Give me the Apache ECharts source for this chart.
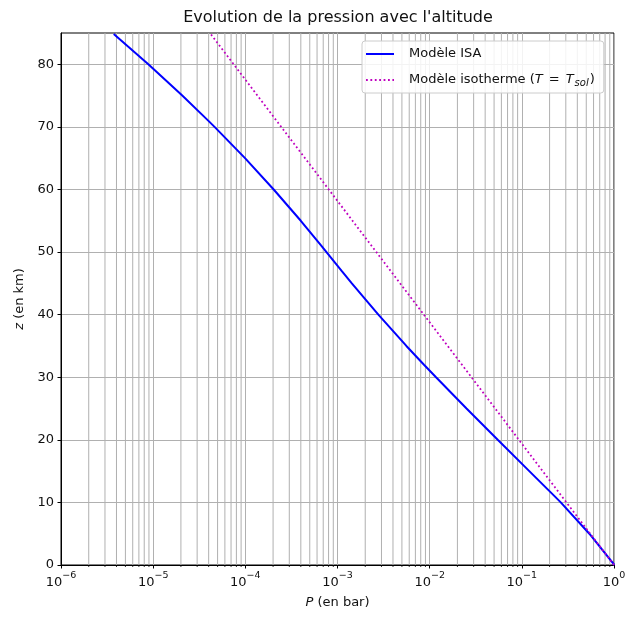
<!DOCTYPE html>
<html>
<head>
<meta charset="utf-8">
<script src="https://cdn.jsdelivr.net/npm/echarts@6/dist/echarts.min.js"></script>
<style>
html,body{margin:0;padding:0;background:#fff;}
#chart{width:638px;height:617px;}
</style>
</head>
<body>
<div id="chart"></div>
<script>
// ---- data ----
const altISA  = [0, 5, 10, 11, 15, 20, 25, 30, 32, 35, 40, 45, 47, 50, 51, 55, 60, 65, 70, 71, 75, 80, 84.85];
const presISA = [1.01325, 0.5402, 0.2644, 0.2263, 0.1205, 0.05475, 0.02511, 0.01172, 0.00868, 0.005589,
                 0.002775, 0.001431, 0.001109, 0.0007595, 0.0006694, 0.0003997, 0.0002031, 0.00009921,
                 0.00004634, 0.00003956, 0.00002068, 0.000008861, 0.000003734];
const altIso  = [0, 10, 20, 30, 40, 50, 60, 70, 80, 85];
const presIso = [1, 0.305, 0.093, 0.0284, 0.00865, 0.00264, 0.000804, 0.000245, 0.0000748, 0.0000413];
const xMajorExps = [-6, -5, -4, -3, -2, -1, 0];
const xMinorMults = [2, 3, 4, 5, 6, 7, 8, 9];
const yTicks = [0, 10, 20, 30, 40, 50, 60, 70, 80];
const yMin = 0, yMax = 85;
const seriesNames = ['Modèle ISA', 'Modèle isotherme'];
const titleText = "Evolution de la pression avec l'altitude";

// ---- build ----
const minorValues = [];
for (let i = 0; i < xMajorExps.length - 1; i++) {
  for (const m of xMinorMults) minorValues.push(m * Math.pow(10, xMajorExps[i]));
}
const FONT = 'DejaVu Sans';
const isaData = altISA.map((z, i) => [presISA[i], z]);
const isoData = altIso.map((z, i) => [presIso[i], z]);
const gridColor = '#b0b0b0';

const chart = echarts.init(document.getElementById('chart'), null, {renderer: 'canvas'});
chart.setOption({
  animation: false,
  backgroundColor: '#fff',
  textStyle: {fontFamily: FONT},
  title: {
    text: titleText,
    left: 333, top: 5, textAlign: 'center',
    textStyle: {fontFamily: FONT, fontSize: 16, fontWeight: 'normal', color: '#111'}
  },
  grid: {left: 61, right: 24, top: 33, bottom: 52, show: true, borderColor: '#000', borderWidth: 1, backgroundColor: 'transparent'},
  legend: {
    orient: 'vertical', left: 362, top: 41,
    data: seriesNames,
    padding: [5, 9, 5, 3], itemGap: 10, itemWidth: 28, itemHeight: 15,
    itemStyle: {opacity: 0},
    backgroundColor: 'rgba(255,255,255,0.85)', borderColor: '#cccccc', borderWidth: 1, borderRadius: 3,
    formatter: function (name) {
      if (name === seriesNames[0]) return 'Modèle ISA';
      return 'Modèle isotherme ({i|T}{eq|=}{i|T}{sub|sol})';
    },
    textStyle: {
      fontFamily: FONT, fontSize: 13, color: '#111', padding: [0, 0, 0, 10], lineHeight: 16,
      rich: {
        i: {fontFamily: FONT, fontSize: 13, fontStyle: 'italic', color: '#111', lineHeight: 16},
        eq: {fontFamily: FONT, fontSize: 13, color: '#111', lineHeight: 16, padding: [0, 6, 0, 6]},
        sub: {fontFamily: FONT, fontSize: 10, fontStyle: 'italic', color: '#111', verticalAlign: 'bottom', lineHeight: 12, padding: [0, 1, 0, 1]}
      }
    }
  },
  xAxis: {
    type: 'log', logBase: 10, min: 1e-6, max: 1, splitNumber: 6,
    position: 'bottom',
    axisLine: {show: true, onZero: false, lineStyle: {color: '#000', width: 1}},
    axisTick: {show: true, length: 3.5, inside: false, lineStyle: {color: '#000', width: 1}},
    axisLabel: {
      margin: 6, color: '#111', fontFamily: FONT, fontSize: 13,
      formatter: function (v) {
        const e = Math.round(Math.log10(v));
        return '{b|10}{sup|' + String(e).replace('-', '\u2212') + '}';
      },
      rich: {
        b: {fontFamily: FONT, fontSize: 13, color: '#111', verticalAlign: 'bottom', lineHeight: 18},
        sup: {fontFamily: FONT, fontSize: 9.5, color: '#111', verticalAlign: 'top', lineHeight: 18}
      }
    },
    splitLine: {show: true, lineStyle: {color: gridColor, width: 1}},
    name: '{i|P} (en bar)', nameLocation: 'middle', nameGap: 31,
    nameTextStyle: {fontFamily: FONT, fontSize: 13, color: '#111',
      rich: {i: {fontFamily: FONT, fontSize: 13, fontStyle: 'italic', color: '#111'}}}
  },
  yAxis: {
    type: 'value', min: yMin, max: yMax, interval: 10,
    axisLine: {show: true, onZero: false, lineStyle: {color: '#000', width: 1}},
    axisTick: {show: true, length: 3.5, customValues: yTicks, lineStyle: {color: '#000', width: 1}},
    axisLabel: {margin: 7, color: '#111', fontFamily: FONT, fontSize: 13, customValues: yTicks},
    splitLine: {show: true, lineStyle: {color: gridColor, width: 1}},
    name: '{i|z} (en km)', nameLocation: 'middle', nameGap: 34, nameRotate: 90,
    nameTextStyle: {fontFamily: FONT, fontSize: 13, color: '#111',
      rich: {i: {fontFamily: FONT, fontSize: 13, fontStyle: 'italic', color: '#111'}}}
  },
  series: [{
    name: 'minor-grid', type: 'custom', z: 1, silent: true, clip: false,
    data: minorValues.map(v => [v, yMin]),
    encode: {x: 0, y: 1},
    renderItem: function (params, api) {
      const v = api.value(0);
      const pb = api.coord([v, yMin]);
      const pt = api.coord([v, yMax]);
      return {
        type: 'group',
        children: [{
          type: 'line',
          shape: {x1: pb[0], y1: pt[1], x2: pb[0], y2: pb[1]},
          style: {stroke: gridColor, lineWidth: 1}
        }, {
          type: 'line',
          shape: {x1: pb[0], y1: pb[1], x2: pb[0], y2: pb[1] + 2},
          style: {stroke: '#000', lineWidth: 0.8}
        }]
      };
    }
  }, {
    name: seriesNames[0], type: 'line', data: isaData, symbol: 'none', z: 3,
    lineStyle: {color: '#0000ff', width: 2}, itemStyle: {color: '#0000ff'}
  }, {
    name: seriesNames[1], type: 'line', data: isoData, symbol: 'none', z: 3,
    lineStyle: {color: '#bf00bf', width: 1.8, type: [1.8, 2.6]}, itemStyle: {color: '#bf00bf'}
  }]
});
</script>
</body>
</html>
